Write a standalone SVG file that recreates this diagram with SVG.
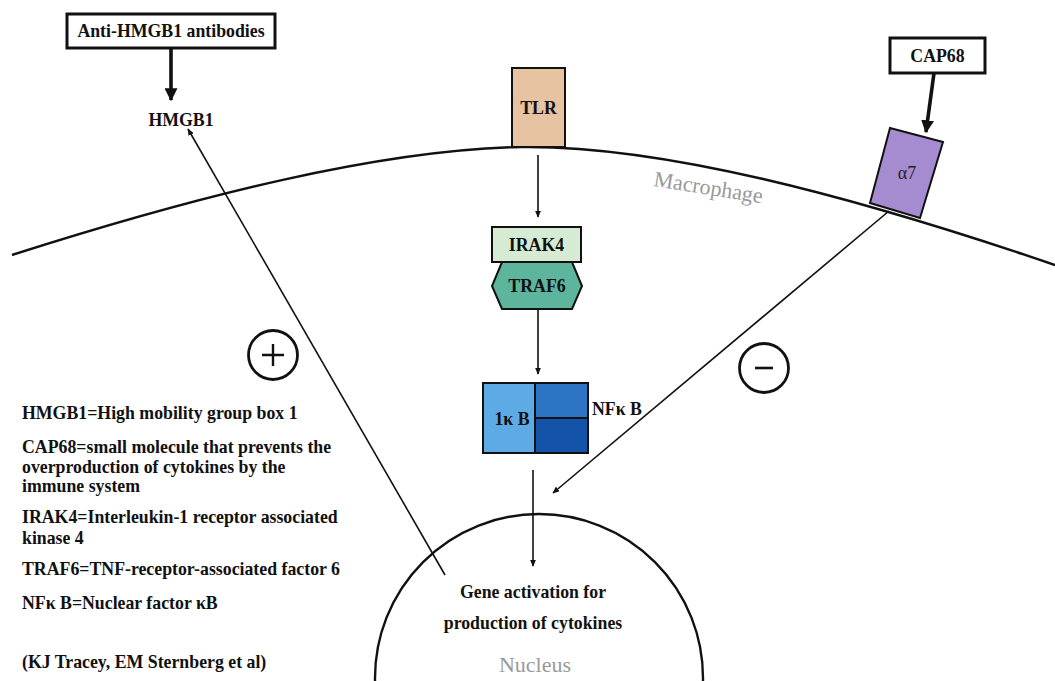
<svg xmlns="http://www.w3.org/2000/svg" width="1055" height="681" viewBox="0 0 1055 681">
<style>
.b{font-family:"Liberation Serif","Times New Roman",serif;font-weight:bold;fill:#111;font-size:17.8px}
.c{text-anchor:middle}
.g{font-family:"Liberation Serif","Times New Roman",serif;fill:#999}
.thin{stroke:#111;stroke-width:1.6;fill:none}
.thick{stroke:#111;stroke-width:3.6;fill:none}
.box{stroke:#111;stroke-width:2}
</style>
<defs>
<marker id="ah" viewBox="0 0 10 10" refX="9" refY="5" markerWidth="7" markerHeight="6" markerUnits="userSpaceOnUse" orient="auto" preserveAspectRatio="none"><path d="M0,0 L10,5 L0,10 Z" fill="#111"/></marker>
<marker id="ahT" viewBox="0 0 10 10" refX="9" refY="5" markerWidth="13" markerHeight="13" markerUnits="userSpaceOnUse" orient="auto" preserveAspectRatio="none"><path d="M0,0 L10,5 L0,10 Z" fill="#111"/></marker>
</defs>
<rect width="1055" height="681" fill="#fff"/>
<g id="membrane">
<path d="M12,255 C200,195 380,150 520,147 C660,145 850,195 1055,265" fill="none" stroke="#111" stroke-width="2.4"/>
<text class="g" font-size="22" transform="translate(653,186) rotate(9)">Macrophage</text>
</g>
<g id="nucleus">
<circle cx="539" cy="678" r="164" fill="none" stroke="#111" stroke-width="2.4"/>
<text class="b c" x="533" y="598" font-size="16.8">Gene activation for</text>
<text class="b c" x="533" y="629" font-size="16.8">production of cytokines</text>
<text class="g c" x="535" y="672" font-size="22">Nucleus</text>
</g>
<g id="connectors">
<line class="thick" x1="171" y1="48" x2="171" y2="100" marker-end="url(#ahT)"/>
<line class="thick" x1="934" y1="73" x2="926" y2="132" marker-end="url(#ahT)"/>
<line class="thin" x1="445" y1="575" x2="188" y2="129" marker-end="url(#ah)"/>
<line class="thin" x1="538" y1="155" x2="538" y2="217" marker-end="url(#ah)"/>
<line class="thin" x1="538" y1="310" x2="538" y2="374" marker-end="url(#ah)"/>
<line class="thin" x1="533" y1="470" x2="533" y2="566" marker-end="url(#ah)"/>
<line class="thin" x1="889" y1="211" x2="553" y2="493" marker-end="url(#ah)"/>
</g>
<g id="anti-hmgb1">
<rect x="67" y="14" width="208" height="34" fill="#fff" stroke="#111" stroke-width="3"/>
<text class="b c" x="171" y="37">Anti-HMGB1 antibodies</text>
</g>
<g id="hmgb1">
<text class="b c" x="181" y="126">HMGB1</text>
</g>
<g id="tlr">
<rect class="box" x="512" y="68" width="53" height="79" fill="#e6c3a1"/>
<text class="b c" x="538.5" y="114">TLR</text>
</g>
<g id="irak4">
<rect class="box" x="492" y="227" width="89" height="35" fill="#d5ebd3"/>
<text class="b c" x="536.5" y="251">IRAK4</text>
</g>
<g id="traf6">
<polygon class="box" points="502,262 572,262 582,286 572,309 502,309 492,286" fill="#5cb59c"/>
<text class="b c" x="537" y="292">TRAF6</text>
</g>
<g id="nfkb">
<rect class="box" x="483" y="383" width="52" height="70" fill="#5daae4"/>
<rect class="box" x="535" y="383" width="53" height="35" fill="#2e74c4"/>
<rect class="box" x="535" y="418" width="53" height="35" fill="#1353a8"/>
<text class="b c" x="512" y="425">1κ B</text>
<text class="b" x="592" y="415">NFκ B</text>
</g>
<g id="alpha7">
<polygon class="box" points="890,128 943,142 920,218 870,203" fill="#a58bd0"/>
<text x="907" y="179" font-family="'Liberation Serif','Times New Roman',serif" font-size="18" fill="#222" text-anchor="middle">α7</text>
</g>
<g id="cap68">
<rect x="890" y="38" width="95" height="35" fill="#fff" stroke="#111" stroke-width="3"/>
<text class="b c" x="937.5" y="62">CAP68</text>
</g>
<g id="plus">
<circle cx="273" cy="355" r="24.5" fill="none" stroke="#111" stroke-width="2.8"/>
<path d="M262,355 H284 M273,344 V366" stroke="#111" stroke-width="2.4"/>
</g>
<g id="minus">
<circle cx="764" cy="368" r="24.5" fill="none" stroke="#111" stroke-width="2.8"/>
<path d="M755,368 H773" stroke="#111" stroke-width="2.6"/>
</g>
<g id="legend" class="b">
<text x="22" y="419">HMGB1=High mobility group box 1</text>
<text x="22" y="453">CAP68=small molecule that prevents the</text>
<text x="22" y="473">overproduction of cytokines by the</text>
<text x="22" y="492">immune system</text>
<text x="22" y="523">IRAK4=Interleukin-1 receptor associated</text>
<text x="22" y="544">kinase 4</text>
<text x="22" y="575">TRAF6=TNF-receptor-associated factor 6</text>
<text x="22" y="609">NFκ B=Nuclear factor κB</text>
<text x="22" y="668">(KJ Tracey, EM Sternberg et al)</text>
</g>
</svg>
